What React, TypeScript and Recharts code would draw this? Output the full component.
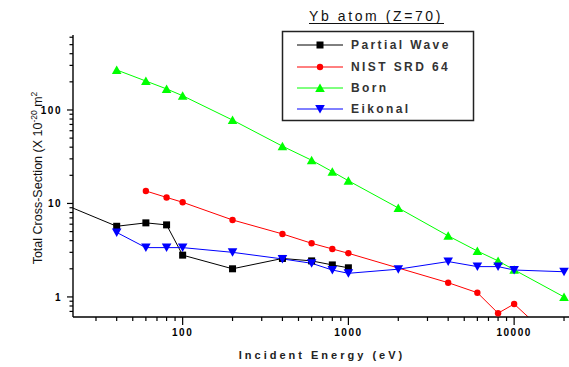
import React from "react";
import { LineChart, Line, XAxis, YAxis, Customized } from "recharts";

// ---- data ----
const pwEnergy = [20, 40, 60, 80, 100, 200, 400, 600, 800, 1000];
const pwValue = [9.5, 5.7, 6.2, 5.9, 2.8, 2.0, 2.58, 2.43, 2.2, 2.05];

const nistEnergy = [60, 80, 100, 200, 400, 600, 800, 1000, 4000, 6000, 8000, 10000, 20000];
const nistValue = [13.6, 11.6, 10.3, 6.66, 4.72, 3.75, 3.26, 2.93, 1.42, 1.11, 0.67, 0.84, 0.27];

const bornEnergy = [40, 60, 80, 100, 200, 400, 600, 800, 1000, 2000, 4000, 6000, 8000, 10000, 20000];
const bornValue = [268, 204, 168, 142, 78, 41, 29, 21.9, 17.5, 8.95, 4.5, 3.1, 2.43, 1.95, 1.0];

const eikEnergy = [40, 60, 80, 100, 200, 400, 600, 800, 1000, 2000, 4000, 6000, 8000, 10000, 20000];
const eikValue = [4.9, 3.37, 3.37, 3.37, 3.0, 2.55, 2.29, 1.94, 1.79, 1.98, 2.39, 2.11, 2.11, 1.94, 1.86];

const xTicks = [30, 40, 50, 60, 70, 80, 90, 100, 200, 300, 400, 500, 600, 700, 800, 900, 1000, 2000, 3000, 4000, 5000, 6000, 7000, 8000, 9000, 10000, 20000];
const xMajor = [100, 1000, 10000];
const yTicks = [0.7, 0.8, 0.9, 1, 2, 3, 4, 5, 6, 7, 8, 9, 10, 20, 30, 40, 50, 60, 70, 80, 90, 100, 200, 300, 400, 500, 600];
const yMajor = [1, 10, 100];

const seriesNames = ["Partial Wave", "NIST SRD 64", "Born", "Eikonal"];
const seriesColors = ["#000000", "#ff0000", "#00ff00", "#0000ff"];

const zip = (e: number[], v: number[]) => e.map((x, i) => ({ e: x, v: v[i] }));
const pwData = zip(pwEnergy, pwValue);
const nistData = zip(nistEnergy, nistValue);
const bornData = zip(bornEnergy, bornValue);
const eikData = zip(eikEnergy, eikValue);

const FONT = "'Liberation Sans', Arial, sans-serif";

// ---- marker shapes ----
const Square = ({ cx, cy, color }: any) => (
  <rect x={cx - 3.5} y={cy - 3.5} width={7} height={7} fill={color} />
);
const Circle = ({ cx, cy, color }: any) => <circle cx={cx} cy={cy} r={3.2} fill={color} />;
const TriUp = ({ cx, cy, color }: any) => (
  <polygon points={`${cx - 4.8},${cy + 4} ${cx + 4.8},${cy + 4} ${cx},${cy - 4.5}`} fill={color} />
);
const TriDown = ({ cx, cy, color }: any) => (
  <polygon points={`${cx - 4.8},${cy - 4} ${cx + 4.8},${cy - 4} ${cx},${cy + 4.5}`} fill={color} />
);
const shapes = [Square, Circle, TriUp, TriDown];

const makeDot = (idx: number) => (props: any) => {
  const S = shapes[idx];
  if (props.cx == null || props.cy == null) return <g key={props.index} />;
  return <S key={props.index} cx={props.cx} cy={props.cy} color={seriesColors[idx]} />;
};

// ---- ticks ----
const XTick = (props: any) => {
  const { x, y, payload } = props;
  const v = payload.value;
  const major = xMajor.includes(v);
  return (
    <g>
      <line x1={x} y1={y} x2={x} y2={y + (major ? 8 : 4)} stroke="#000" strokeWidth={1.2} />
      {major && (
        <text x={x} y={y + 19} textAnchor="middle" fontSize={10} fontWeight="bold" letterSpacing={1.5} fontFamily={FONT} fill="#000">
          {String(v)}
        </text>
      )}
    </g>
  );
};

const YTick = (props: any) => {
  const { x, y, payload } = props;
  const v = payload.value;
  const major = yMajor.includes(v);
  return (
    <g>
      <line x1={x} y1={y} x2={x - (major ? 6 : 3.5)} y2={y} stroke="#000" strokeWidth={1.2} />
      {major && (
        <text x={x - 11} y={y + 3.6} textAnchor="end" fontSize={10} fontWeight="bold" letterSpacing={1.5} fontFamily={FONT} fill="#000">
          {String(v)}
        </text>
      )}
    </g>
  );
};

const Decorations = () => {
  const rowY = [45, 67, 88, 109];
  return (
    <g fontFamily={FONT}>
      {/* title */}
      <text x={376} y={21} textAnchor="middle" fontSize={14} letterSpacing={2.6} fill="#111">
        Yb atom (Z=70)
      </text>
      <line x1={309} y1={23.5} x2={444} y2={23.5} stroke="#111" strokeWidth={1} />
      {/* legend */}
      <rect x={282.5} y={31.5} width={191} height={89} fill="#fff" stroke="#222" strokeWidth={1.5} />
      {seriesNames.map((n, i) => {
        const S = shapes[i];
        return (
          <g key={n}>
            <line x1={297} y1={rowY[i]} x2={343} y2={rowY[i]} stroke={seriesColors[i]} strokeWidth={1} />
            <S cx={320} cy={rowY[i]} color={seriesColors[i]} />
            <text x={351} y={rowY[i] + 4.3} fontSize={12} fontWeight="bold" letterSpacing={2.4} fill="#333">
              {n}
            </text>
          </g>
        );
      })}
      {/* y axis title */}
      <text transform="translate(42,178) rotate(-90)" textAnchor="middle" fontSize={12.5} fill="#111">
        Total Cross-Section (X 10
        <tspan dy={-5} fontSize={8.5}>-20</tspan>
        <tspan dy={5}> m</tspan>
        <tspan dy={-5} fontSize={8.5}>2</tspan>
      </text>
      {/* x axis title */}
      <text x={322} y={359} textAnchor="middle" fontSize={11} fontWeight="bold" letterSpacing={3} fill="#222">
        Incident Energy (eV)
      </text>
    </g>
  );
};

export default function App() {
  return (
    <div style={{ position: "absolute", left: 0, top: 0, width: 569, height: 367, background: "#fff" }}>
      <LineChart width={569} height={367} margin={{ top: 35, right: 0, bottom: 0, left: 0 }}>
        <XAxis
          type="number"
          dataKey="e"
          scale="log"
          domain={[21.8, 21430]}
          allowDataOverflow
          ticks={xTicks}
          interval={0}
          tick={<XTick />}
          tickLine={false}
          tickSize={0}
          tickMargin={0}
          height={50}
          axisLine={{ stroke: "#000", strokeWidth: 1.4 }}
        />
        <YAxis
          type="number"
          scale="log"
          domain={[0.61, 634]}
          allowDataOverflow
          ticks={yTicks}
          interval={0}
          tick={<YTick />}
          tickLine={false}
          tickSize={0}
          tickMargin={0}
          width={73}
          axisLine={{ stroke: "#000", strokeWidth: 1.4 }}
        />
        <Line data={pwData} dataKey="v" stroke={seriesColors[0]} strokeWidth={1} dot={makeDot(0)} activeDot={false} isAnimationActive={false} />
        <Line data={nistData} dataKey="v" stroke={seriesColors[1]} strokeWidth={1} dot={makeDot(1)} activeDot={false} isAnimationActive={false} />
        <Line data={bornData} dataKey="v" stroke={seriesColors[2]} strokeWidth={1} dot={makeDot(2)} activeDot={false} isAnimationActive={false} />
        <Line data={eikData} dataKey="v" stroke={seriesColors[3]} strokeWidth={1} dot={makeDot(3)} activeDot={false} isAnimationActive={false} />
        <Customized component={Decorations} />
      </LineChart>
    </div>
  );
}
